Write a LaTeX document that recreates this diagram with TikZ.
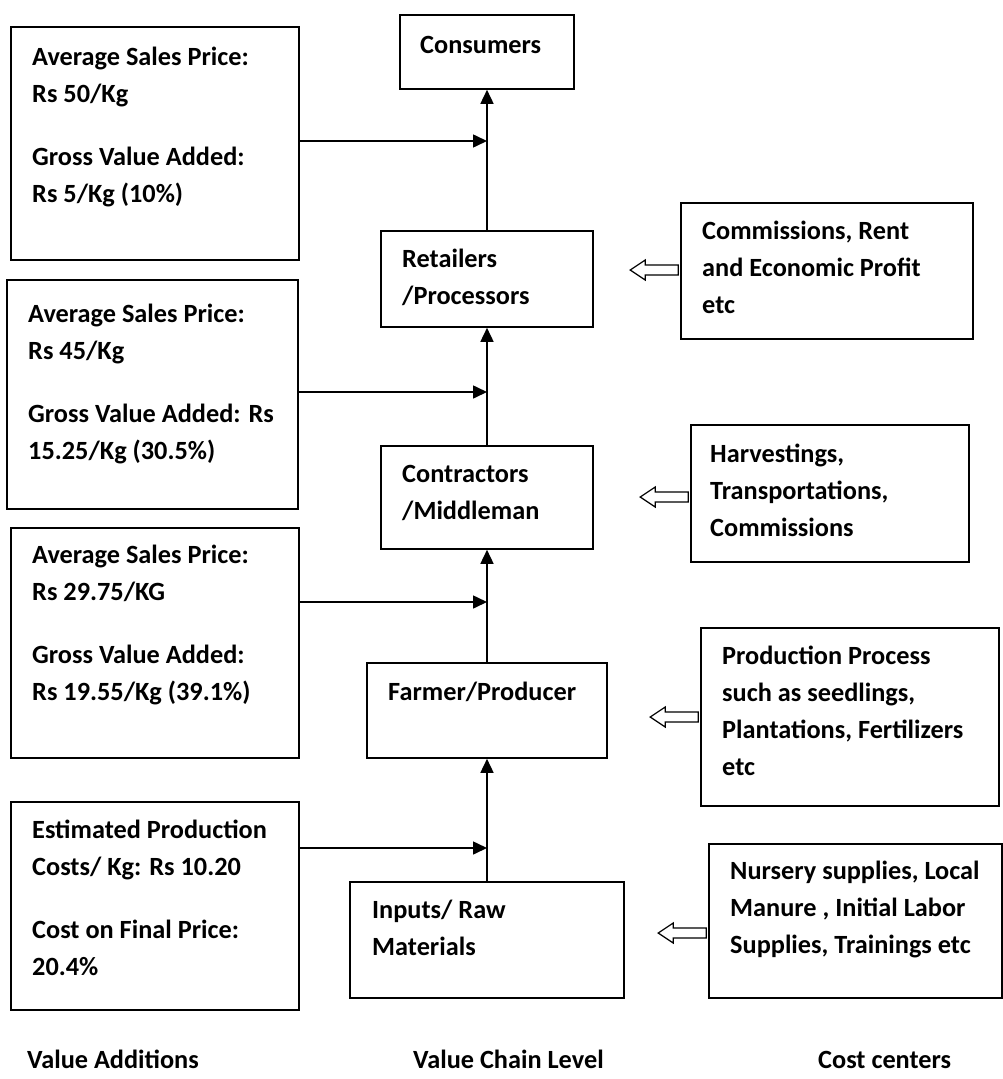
\documentclass[tikz,border=0pt]{standalone}
\usepackage{fontspec}
\setmainfont{Carlito}
\usetikzlibrary{arrows.meta}

% text block whose baseline is its first line
\newcommand{\lines}[1]{\begin{tabular}[t]{@{}l@{}}#1\end{tabular}}

\begin{document}
\begin{tikzpicture}[x=1pt,y=-1pt,
  box/.style={draw=black, line width=1.6pt, fill=white, inner sep=0pt},
  txt/.style={anchor=base west, inner sep=0pt,
              font=\bfseries\fontsize{26.3}{37}\selectfont},
  flow/.style={line width=1.6pt, -{Triangle[length=14pt,width=13pt]}},
  hollow/.style={draw=black, fill=white, line width=1.2pt, line join=miter}
]
\useasboundingbox (0,0) rectangle (1003,1079);

% ---------- value additions (left column) ----------
\node[box, minimum width=288pt, minimum height=233pt] (lb1) at (155,143.5) {};
\node[box, minimum width=291pt, minimum height=229pt] (lb2) at (152.5,394.5) {};
\node[box, minimum width=288pt, minimum height=230pt] (lb3) at (155,643) {};
\node[box, minimum width=288pt, minimum height=208pt] (lb4) at (155,906) {};

\node[txt] (tl1) at (32,65) {\lines{Average Sales Price:\\Rs 50/Kg\\[26pt]Gross Value Added:\\Rs 5/Kg (10\%)}};
\node[txt] (tl2) at (28,322) {\lines{Average Sales Price:\\Rs 45/Kg\\[26pt]Gross Value Added: Rs\\15.25/Kg (30.5\%)}};
\node[txt] (tl3) at (32,563) {\lines{Average Sales Price:\\Rs 29.75/KG\\[26pt]Gross Value Added:\\Rs 19.55/Kg (39.1\%)}};
\node[txt] (tl4) at (32,838) {\lines{Estimated Production\\Costs/ Kg: Rs 10.20\\[26pt]Cost on Final Price:\\20.4\%}};

% ---------- value chain levels (middle column) ----------
\node[box, minimum width=174pt, minimum height=74pt]  (cons) at (487,52) {};
\node[box, minimum width=212pt, minimum height=96pt]  (ret)  at (487,279) {};
\node[box, minimum width=212pt, minimum height=103pt] (con)  at (487,497.5) {};
\node[box, minimum width=240pt, minimum height=95pt]  (farm) at (487,710.5) {};
\node[box, minimum width=274pt, minimum height=116pt] (inp)  at (487,940) {};

\node[txt] (tcons) at (420,53) {Consumers};
\node[txt] (tret)  at (402,267) {\lines{Retailers\\/Processors}};
\node[txt] (tcon)  at (402,482) {\lines{Contractors\\/Middleman}};
\node[txt] (tfarm) at (388,700) {Farmer/Producer};
\node[txt] (tinp)  at (372,918) {\lines{Inputs/ Raw\\Materials}};

% ---------- cost centers (right column) ----------
\node[box, minimum width=292pt, minimum height=136pt] (r1) at (827,271) {};
\node[box, minimum width=278pt, minimum height=137pt] (r2) at (830,493.5) {};
\node[box, minimum width=298pt, minimum height=178pt] (r3) at (850,717) {};
\node[box, minimum width=293pt, minimum height=154pt] (r4) at (855.5,921) {};

\node[txt] (tr1) at (702,239) {\lines{Commissions, Rent\\and Economic Profit\\etc}};
\node[txt] (tr2) at (710,462) {\lines{Harvestings,\\Transportations,\\Commissions}};
\node[txt] (tr3) at (722,664) {\lines{Production Process\\such as seedlings,\\Plantations, Fertilizers\\etc}};
\node[txt] (tr4) at (730,879) {\lines{Nursery supplies, Local\\Manure , Initial Labor\\Supplies, Trainings etc}};

% ---------- column headings ----------
\node[txt] (h1) at (27,1068) {Value Additions};
\node[txt] (h2) at (413,1068) {Value Chain Level};
\node[txt] (h3) at (818,1068) {Cost centers};

% ---------- main chain ----------
\draw[flow] (inp.north) -- (farm.south);
\draw[flow] (farm.north) -- (con.south);
\draw[flow] (con.north) -- (ret.south);
\draw[flow] (ret.north) -- (cons.south);

% ---------- value additions feeding the chain ----------
\coordinate (j1) at (487,141);
\coordinate (j2) at (487,392);
\coordinate (j3) at (487,602);
\coordinate (j4) at (487,848);
\draw[flow] (lb1.east |- j1) -- (j1);
\draw[flow] (lb2.east |- j2) -- (j2);
\draw[flow] (lb3.east |- j3) -- (j3);
\draw[flow] (lb4.east |- j4) -- (j4);

% ---------- hollow arrows from the cost centers ----------
\coordinate (a1) at (r1.west |- 0,270);
\coordinate (a2) at (r2.west |- 0,497);
\coordinate (a3) at (r3.west |- 0,717);
\coordinate (a4) at (r4.west |- 0,933);
\foreach \a in {a1,a2,a3,a4}{
  \draw[hollow] (\a) ++(-2,-5) -- ++(-33,0) -- ++(0,-5) -- ++(-15,10)
    -- ++(15,10) -- ++(0,-5) -- ++(33,0) -- cycle;
}
\end{tikzpicture}
\end{document}
